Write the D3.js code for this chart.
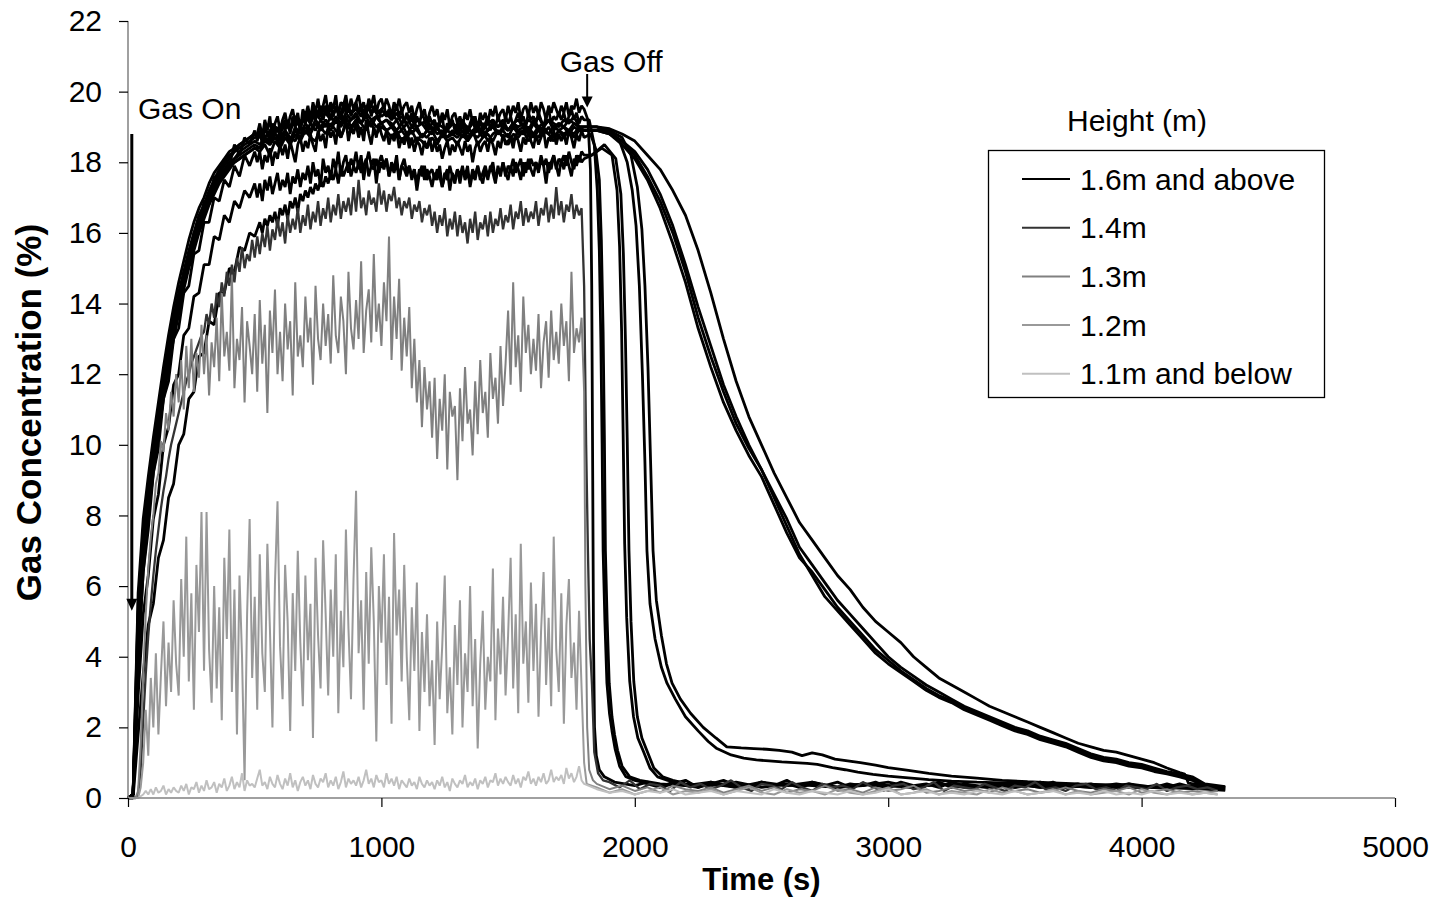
<!DOCTYPE html>
<html><head><meta charset="utf-8">
<script src="https://cdn.jsdelivr.net/npm/d3@7"></script>
<style>
html,body{margin:0;padding:0;background:#fff;}
svg{display:block;font-family:"Liberation Sans",Arial,sans-serif;}
</style></head>
<body><svg id="chart" width="1439" height="901"></svg>
<script>
// ---------------- DATA ----------------
const X_TICKS = [0, 1000, 2000, 3000, 4000, 5000];
const Y_TICKS = [0, 2, 4, 6, 8, 10, 12, 14, 16, 18, 20, 22];
const X_TITLE = "Time (s)";
const Y_TITLE = "Gas Concentration (%)";
const LEGEND_TITLE = "Height (m)";
const LEGEND_LABELS = ["1.6m and above", "1.4m", "1.3m", "1.2m", "1.1m and below"];
const LEGEND_COLORS = ["#000000", "#333333", "#808080", "#999999", "#c0c0c0"];
const GAS_ON = {t: 15, from: 18.8, to: 5.3, label: "Gas On"};
const GAS_OFF = {t: 1812, from: 20.5, to: 19.55, label: "Gas Off"};

// sampling steps (s)
const RISE_STEP = 20;     // black sensors rise, t = 0..500
const PLATEAU_STEP = 10;  // noisy black sensors plateau, t = 510..1800
const BLACK_STEP = 20;    // smoother black sensors, t = 0..1800
const GRAY_STEP = 10;     // gray sensors, t = 0..1800

// ---- 1.6m and above (black), noisy sensors: rise t=0..500 /20, plateau t=510..1800 /10 ----
const v1Rise = [0,0.1,5.5,7.6,8.9,9.9,10.9,11.9,12.8,13.6,14.3,14.9,15.5,16.0,16.5,16.8,17.2,17.5,17.8,18.0,18.2,18.3,18.5,18.6,18.7,18.8];
const v1Plat = [18.8,19.1,18.7,19.2,18.9,19.3,18.6,19.1,19.3,18.9, 19.2,19.4,19.0,19.3,19.5,19.1,19.4,18.9,19.5,19.3,
 19.6,19.2,19.7,19.4,19.8,19.3,19.6,19.9,19.4,19.7, 19.5,19.9,19.3,19.7,19.6,19.9,19.4,19.8,19.5,19.7,
 19.9,19.5,19.7,19.3,19.8,19.6,19.9,19.4,19.7,19.8, 19.5,19.8,19.6,19.3,19.7,19.5,19.8,19.4,19.6,19.7,
 19.4,19.6,19.2,19.5,19.7,19.3,19.5,19.1,19.4,19.6, 19.3,19.5,19.1,19.4,19.2,19.5,19.0,19.3,19.4,19.1,
 19.3,19.0,19.4,19.2,19.5,19.1,19.3,18.9,19.4,19.2, 19.4,19.1,19.5,19.3,19.6,19.2,19.4,19.5,19.2,19.6,
 19.3,19.6,19.4,19.7,19.2,19.5,19.6,19.3,19.7,19.4, 19.6,19.3,19.7,19.5,19.2,19.6,19.4,19.7,19.5,19.3,
 19.6,19.4,19.7,19.3,19.6,19.5,19.8,19.4,19.6,19.5];
const v1Drop = [[1815,19.2],[1825,17.8],[1830,14.5],[1834,9],[1837,4.5],[1841,2.0],[1848,1.2],[1860,0.8],[1880,0.6],[1920,0.45],[1960,0.4]];
const v1Tail = [0.35,0.45,0.3,0.4,0.5,0.3,0.45,0.35,0.4,0.3,0.45,0.35,0.5,0.3,0.4,0.35,0.45,0.3,0.4,0.35,
 0.3,0.45,0.35,0.4,0.3,0.45,0.35,0.3,0.4,0.35,0.3,0.4,0.35,0.45,0.3,0.35,0.4,0.3,0.35,0.4,0.3,0.35,0.3,0.4,0.3,0.35,0.3]; // 2000..4300 /50

const v2Rise = [0,0.1,4.8,7.4,8.4,9.9,10.5,11.9,12.4,13.6,13.9,14.9,15.1,16.0,16.1,16.9,16.8,17.6,17.5,18.1,17.9,18.5,18.2,18.7,18.5,18.9];
const v2Plat = [18.6,18.9,18.5,19.0,18.8,18.6,19.1,18.8,19.0,18.7, 19.1,18.9,19.2,18.8,19.3,19.0,19.2,18.9,19.3,19.1,
 19.4,19.1,19.5,19.2,19.4,19.6,19.2,19.5,19.3,19.6, 19.3,19.6,19.4,19.2,19.7,19.4,19.6,19.3,19.5,19.7,
 19.4,19.6,19.2,19.5,19.7,19.3,19.6,19.4,19.2,19.5, 19.6,19.3,19.5,19.2,19.4,19.6,19.3,19.5,19.1,19.4,
 19.2,19.4,19.0,19.3,19.1,19.4,19.2,18.9,19.3,19.1, 19.2,18.9,19.1,19.3,18.8,19.1,19.0,19.2,18.9,19.1,
 18.9,19.2,19.0,18.8,19.1,19.3,18.9,19.1,19.2,18.9, 19.1,19.3,18.9,19.2,19.0,19.3,19.1,18.9,19.3,19.1,
 19.3,19.0,19.2,19.4,19.1,19.3,19.0,19.4,19.2,19.3, 19.1,19.4,19.2,19.0,19.3,19.5,19.1,19.3,19.2,19.4,
 19.2,19.4,19.1,19.3,19.5,19.2,19.4,19.1,19.3,19.2];
const v2Drop = [[1820,19.2],[1840,18.5],[1852,17.2],[1860,15.5],[1866,13.0],[1871,10],[1875,7.0],[1882,5.0],[1890,3.25],[1900,2.4],[1910,1.9],[1922,1.4],[1940,0.9],[1965,0.6],[2000,0.5],[2030,0.45]];
const v2Tail = [0.4,0.3,0.45,0.35,0.3,0.4,0.5,0.35,0.3,0.45,0.35,0.4,0.3,0.45,0.35,0.3,0.4,0.35,0.45,0.3,
 0.4,0.3,0.35,0.45,0.3,0.4,0.35,0.3,0.4,0.3,0.35,0.45,0.3,0.35,0.4,0.3,0.35,0.3,0.4,0.35,0.3,0.4,0.3,0.35,0.3,0.3]; // 2050..4300 /50

const f2Rise = [0,0.1,3.8,6.4,7.6,9.2,9.9,11.3,11.8,13.0,13.3,14.3,14.5,15.4,15.5,16.3,16.3,17.0,16.9,17.5,17.3,17.9,17.6,18.2,17.9,18.3];
const f2Plat = [18.0,18.3,17.8,18.2,18.0,18.4,17.9,18.3,18.1,18.5, 18.2,18.5,18.1,18.6,18.3,18.0,18.5,18.7,18.3,18.6,
 18.4,18.8,18.5,18.3,18.9,18.6,18.8,18.4,19.0,18.7, 18.9,18.5,19.1,18.7,18.9,19.2,18.6,19.0,18.8,19.1,
 18.7,19.0,18.6,19.2,18.8,18.5,19.0,18.7,19.1,18.8, 18.6,18.9,18.5,18.8,18.6,18.9,18.4,18.7,18.5,18.8,
 18.4,18.7,18.3,18.6,18.5,18.2,18.6,18.4,18.7,18.3, 18.6,18.3,18.5,18.1,18.4,18.6,18.2,18.5,18.3,18.6,
 18.4,18.2,18.6,18.3,18.5,18.0,18.4,18.6,18.3,18.5, 18.6,18.3,18.7,18.5,18.2,18.6,18.4,18.8,18.5,18.6,
 18.7,18.4,18.8,18.6,18.3,18.7,18.5,18.9,18.6,18.4, 18.8,18.5,18.7,18.9,18.4,18.7,18.6,18.9,18.5,18.8,
 18.6,18.8,18.5,18.9,18.7,18.4,18.8,18.6,18.9,18.7];
const f2Drop = [[1825,18.8],[1845,18.4],[1860,17.5],[1868,15.8],[1875,13.2],[1880,10.2],[1884,7.0],[1891,5.0],[1899,3.25],[1910,2.3],[1920,1.8],[1932,1.35],[1950,0.9],[1980,0.6],[2020,0.5],[2060,0.45]];
const f2Tail = [0.4,0.35,0.45,0.3,0.4,0.35,0.45,0.3,0.4,0.35,0.3,0.4,0.35,0.3,0.4,0.3,0.35,0.3,0.4,0.3,0.35,0.3,0.3]; // 2100..4300 /100

const f3Rise = [0,0.1,2.9,5.2,6.3,7.9,8.6,10.0,10.5,11.7,12.0,13.1,13.3,14.2,14.3,15.1,15.1,15.9,15.8,16.5,16.3,16.9,16.7,17.2,17.0,17.4];
const f3Plat = [17.0,17.4,16.9,17.5,17.2,17.6,17.1,17.4,17.7,17.2, 17.5,17.3,17.7,17.1,17.6,17.4,17.8,17.3,17.7,17.5,
 17.9,17.4,18.0,17.6,17.8,17.3,18.1,17.7,17.9,17.5, 18.1,17.8,18.3,17.6,18.0,18.2,17.7,18.1,17.9,18.3,
 17.8,18.2,17.5,18.0,18.3,17.9,18.1,17.4,18.0,18.2, 17.9,18.1,17.6,18.0,17.8,18.2,17.5,17.9,18.1,17.7,
 17.9,17.5,17.8,17.2,17.7,17.9,17.5,17.8,17.6,17.3, 17.7,17.5,17.9,17.3,17.6,17.8,17.2,17.7,17.5,17.8,
 17.4,17.8,17.6,17.9,17.3,17.7,17.5,17.9,17.6,17.4, 17.8,17.5,17.9,17.7,17.4,17.9,17.6,18.0,17.7,17.5,
 17.9,17.6,18.0,17.8,17.5,18.0,17.7,18.1,17.8,17.6, 18.0,17.7,18.1,17.9,17.4,18.0,17.8,18.2,17.9,17.6,
 18.1,17.8,18.2,17.9,17.6,18.1,17.9,18.2,18.0,18.1];
const f3Drop = [[1830,18.2],[1870,18.4],[1910,18.2],[1930,17.2],[1940,15.6],[1948,13.2],[1954,10.3],[1960,7.2],[1968,5.1],[1980,3.3],[1995,2.3],[2012,1.7],[2035,1.3],[2060,0.85],[2090,0.6],[2130,0.5],[2170,0.45]];
const f3Tail = [0.35,0.4,0.3,0.45,0.35,0.4,0.3,0.35,0.45,0.3,0.4,0.35,0.3,0.35,0.4,0.3,0.35,0.3,0.3,0.35,0.3,0.28]; // 2200..4300 /100

const f4Rise = [0,0,1.8,3.5,4.9,5.5,6.8,7.3,8.5,8.9,10.0,10.3,11.3,11.5,12.5,12.6,13.5,13.4,14.3,14.3,15.0,14.9,15.6,15.5,16.0,15.9];
const f4Plat = [16.1,16.3,16.0,16.4,16.2,16.5,16.3,16.6,16.2,16.7, 16.5,16.8,16.4,16.9,16.7,17.0,16.6,17.1,16.9,17.2,
 17.0,17.3,17.1,17.4,17.2,17.5,17.3,17.6,17.4,17.7, 17.5,17.8,17.4,17.9,17.6,17.8,18.0,17.6,17.9,17.7,
 18.0,17.7,17.9,18.1,17.6,17.9,17.8,18.1,17.7,18.0, 17.8,18.1,17.6,17.9,17.7,18.0,17.5,17.9,17.8,17.6,
 17.9,17.6,17.8,17.4,17.8,17.6,17.9,17.5,17.7,17.8, 17.5,17.8,17.6,17.3,17.7,17.5,17.9,17.6,17.4,17.8,
 17.6,17.9,17.5,17.7,17.4,17.8,17.6,17.9,17.5,17.7, 17.9,17.6,17.8,18.0,17.5,17.8,17.7,18.0,17.6,17.9,
 17.8,18.1,17.7,17.9,18.1,17.6,18.0,17.8,18.1,17.9, 18.0,17.8,18.2,17.9,18.1,17.7,18.0,18.2,17.8,18.1,
 18.0,18.2,17.9,18.3,18.0,17.8,18.2,18.0,18.3,18.2];
const f4Drop = [[1830,18.2],[1880,18.5],[1925,18.1],[1945,17.1],[1955,15.4],[1963,13.0],[1970,10.2],[1977,7.0],[1985,5.0],[1996,3.3],[2010,2.3],[2028,1.7],[2050,1.3],[2075,0.85],[2110,0.6],[2150,0.5],[2180,0.45]];
const f4Tail = [0.4,0.35,0.45,0.3,0.4,0.35,0.3,0.4,0.35,0.3,0.4,0.3,0.35,0.4,0.3,0.35,0.3,0.35,0.3,0.3,0.28,0.3]; // 2200..4300 /100

// ---- 1.6m and above (black), smoother sensors: t=0..1800 every 20 s ----
const m1Fill = [0,0.1,4.3,6.7,8.2,9.4,10.5,11.5,12.4,13.2,13.9,14.6,15.2,15.7,16.1,16.5,16.9,17.2,17.5,17.7,17.9,18.1,18.2,18.3,18.4,18.5,
 18.4,18.7,18.5,18.8,18.6,18.9,18.7,18.6,19.0,18.8,19.1,18.9,19.2,
 19.0,19.3,19.1,19.4,19.0,19.2,19.4,19.1,19.3,19.0,19.3,19.1,19.2,
 19.0,19.2,18.9,19.1,18.8,19.0,18.7,18.9,19.0,18.8,18.9,18.7,18.9,
 18.8,19.0,18.7,18.9,19.0,18.8,18.9,19.1,18.8,19.0,18.9,19.1,18.9,
 19.0,18.8,19.1,18.9,19.0,19.2,18.9,19.1,19.0,18.9,19.1,19.0,19.0];
const m1Drop = [[1850,19.0],[1900,18.9],[1940,18.6],[1970,18.0],[1990,17.2],[2005,16.2],[2018,14.5],[2030,12.0],[2040,9.5],[2048,7.0],[2060,5.5],[2080,4.5],[2105,3.7],[2127,3.25],[2160,2.8],[2200,2.3],[2250,1.9],[2290,1.6],[2324,1.4],[2380,1.22],[2430,1.13],[2480,1.08],[2530,1.05],[2580,1.02],[2630,1.0],[2680,0.98],[2720,0.95],[2780,0.86],[2830,0.8],[2880,0.73],[2940,0.67],[3000,0.62],[3080,0.57],[3160,0.52],[3250,0.48],[3350,0.45],[3450,0.43],[3550,0.41],[3650,0.39],[3750,0.37],[3850,0.35],[3950,0.32],[4050,0.3],[4150,0.28],[4250,0.25],[4330,0.22]];

const m2Fill = [0,0.1,4.0,6.4,8.0,9.2,10.3,11.3,12.2,13.0,13.7,14.4,15.0,15.5,16.0,16.4,16.8,17.1,17.4,17.6,17.8,18.0,18.1,18.2,18.3,18.4,
 18.3,18.5,18.2,18.6,18.4,18.7,18.5,18.8,18.6,18.9,18.7,18.6,19.0,
 18.8,19.1,18.9,18.7,19.1,18.9,19.2,18.8,19.0,19.1,18.8,19.0,18.9,
 18.7,18.9,18.6,18.8,18.5,18.7,18.6,18.4,18.7,18.5,18.8,18.6,18.7,
 18.5,18.8,18.6,18.9,18.5,18.7,18.8,18.6,18.9,18.7,18.5,18.8,18.7,
 18.9,18.6,18.8,18.7,19.0,18.8,18.6,18.9,18.7,18.9,18.8,19.0,18.9];
const m2Drop = [[1850,18.9],[1900,18.9],[1950,18.7],[1985,18.2],[2010,17.3],[2028,16.1],[2040,14.5],[2052,12.2],[2062,9.6],[2072,7.0],[2085,5.6],[2105,4.6],[2125,3.8],[2147,3.25],[2180,2.8],[2220,2.4],[2270,2.0],[2320,1.7],[2363,1.45],[2420,1.42],[2470,1.4],[2520,1.38],[2570,1.35],[2620,1.3],[2660,1.2],[2700,1.28],[2740,1.22],[2790,1.1],[2840,1.05],[2890,1.0],[2950,0.93],[3000,0.86],[3080,0.78],[3160,0.7],[3250,0.62],[3350,0.56],[3450,0.5],[3550,0.46],[3650,0.43],[3750,0.4],[3850,0.38],[3950,0.35],[4050,0.32],[4150,0.3],[4250,0.27],[4330,0.24]];

const s1Fill = [0,0.1,5.2,7.4,8.7,9.8,10.8,11.8,12.7,13.5,14.2,14.8,15.4,15.9,16.3,16.7,17.1,17.4,17.7,17.9,18.1,18.3,18.4,18.5,18.6,18.7,
 18.8,18.7,18.9,19.0,18.8,19.1,18.9,19.2,19.0,19.3,19.1,19.4,19.2,
 19.4,19.2,19.5,19.3,19.6,19.4,19.5,19.3,19.6,19.4,19.5,19.3,19.4,
 19.2,19.4,19.1,19.3,19.0,19.2,19.1,18.9,19.1,19.0,18.8,19.0,19.1,
 18.9,19.1,19.0,18.8,19.0,19.1,18.9,19.1,19.0,19.2,18.9,19.1,19.0,
 19.1,18.9,19.2,19.0,19.1,19.2,19.0,19.1,19.0,19.2,19.1,19.0,19.0];
const s1Drop = [[1850,19.0],[1900,18.95],[1950,18.8],[2000,18.6],[2050,18.2],[2100,17.8],[2150,17.2],[2200,16.5],[2250,15.5],[2300,14.3],[2350,13.0],[2400,11.8],[2450,10.8],[2500,10.0],[2550,9.2],[2600,8.5],[2650,7.8],[2700,7.3],[2750,6.8],[2800,6.3],[2850,5.9],[2900,5.4],[2950,5.0],[3000,4.7],[3050,4.4],[3100,4.0],[3150,3.7],[3200,3.4],[3250,3.2],[3300,3.0],[3350,2.8],[3400,2.6],[3450,2.45],[3500,2.3],[3550,2.15],[3600,2.0],[3650,1.85],[3700,1.7],[3750,1.55],[3800,1.45],[3850,1.35],[3900,1.3],[3950,1.2],[4000,1.1],[4050,1.0],[4100,0.85],[4150,0.72],[4170,0.68],[4185,0.42],[4250,0.35],[4330,0.3]];

const s2Fill = [0,0.1,4.6,6.9,8.4,9.6,10.7,11.7,12.6,13.4,14.1,14.7,15.3,15.8,16.2,16.6,17.0,17.3,17.6,17.8,18.0,18.1,18.3,18.4,18.5,18.6,
 18.5,18.7,18.6,18.8,18.7,18.9,18.6,19.0,18.8,19.1,18.9,19.2,19.0,
 19.2,19.0,19.3,19.1,19.4,19.2,19.3,19.1,19.4,19.2,19.3,19.1,19.2,
 19.1,18.9,19.1,18.8,19.0,18.9,18.7,18.9,18.8,19.0,18.7,18.9,18.8,
 18.9,18.7,19.0,18.8,18.9,18.7,18.9,19.0,18.8,18.9,18.7,19.0,18.8,
 18.9,19.0,18.8,19.0,18.9,18.8,19.0,18.9,19.0,18.8,19.0,18.9,18.9];
const s2Drop = [[1850,18.9],[1900,18.8],[1950,18.5],[2000,18.1],[2050,17.5],[2100,16.7],[2150,15.7],[2200,14.6],[2250,13.3],[2300,12.2],[2350,11.2],[2400,10.4],[2450,9.7],[2500,9.1],[2550,8.3],[2600,7.5],[2650,6.8],[2700,6.4],[2750,5.9],[2800,5.4],[2850,5.0],[2900,4.6],[2950,4.2],[3000,3.9],[3050,3.6],[3100,3.35],[3150,3.1],[3200,2.9],[3250,2.75],[3300,2.55],[3350,2.4],[3400,2.25],[3450,2.1],[3500,1.95],[3550,1.85],[3600,1.7],[3650,1.6],[3700,1.5],[3750,1.35],[3800,1.2],[3850,1.1],[3900,1.05],[3950,0.95],[4000,0.9],[4050,0.8],[4100,0.72],[4150,0.65],[4200,0.55],[4250,0.35],[4330,0.3]];

const s3Fill = [0,0.1,5.8,7.9,9.1,10.2,11.2,12.2,13.1,13.9,14.6,15.2,15.8,16.3,16.7,17.0,17.4,17.7,17.9,18.1,18.3,18.4,18.5,18.6,18.7,18.8,
 18.7,18.9,18.8,19.0,18.9,19.2,19.0,19.3,19.1,19.4,19.2,19.5,19.3,
 19.6,19.3,19.5,19.4,19.7,19.4,19.6,19.3,19.5,19.6,19.4,19.5,19.3,
 19.4,19.2,19.3,19.1,19.2,19.0,19.1,19.2,18.9,19.1,19.0,18.9,19.1,
 19.0,19.2,18.9,19.1,19.0,18.9,19.1,19.2,19.0,19.1,18.9,19.1,19.2,
 19.0,19.2,19.1,19.3,19.0,19.2,19.1,19.0,19.2,19.1,19.3,19.0,19.0];
const s3Drop = [[1850,19.0],[1900,18.85],[1950,18.6],[2000,18.2],[2050,17.6],[2100,16.9],[2150,16.0],[2200,14.9],[2250,13.6],[2300,12.5],[2350,11.5],[2400,10.6],[2450,9.9],[2500,9.3],[2550,8.5],[2600,7.7],[2650,6.9],[2700,6.3],[2750,5.7],[2800,5.3],[2850,4.9],[2900,4.5],[2950,4.1],[3000,3.8],[3050,3.55],[3100,3.3],[3150,3.05],[3200,2.85],[3250,2.7],[3300,2.5],[3350,2.35],[3400,2.2],[3450,2.05],[3500,1.9],[3550,1.8],[3600,1.65],[3650,1.55],[3700,1.45],[3750,1.3],[3800,1.15],[3850,1.05],[3900,1.0],[3950,0.9],[4000,0.85],[4050,0.75],[4100,0.68],[4150,0.6],[4200,0.5],[4250,0.32],[4330,0.28]];

const s4Fill = [0,0.1,4.4,6.8,8.3,9.5,10.6,11.6,12.5,13.3,14.0,14.6,15.2,15.7,16.1,16.5,16.9,17.2,17.5,17.7,17.9,18.0,18.1,18.2,18.3,18.4,
 18.4,18.6,18.5,18.7,18.5,18.8,18.6,18.9,18.7,19.0,18.8,19.1,18.9,
 19.1,18.9,19.2,19.0,19.3,19.0,19.2,19.1,18.9,19.2,19.0,19.1,18.9,
 19.0,18.8,18.9,18.7,18.9,18.6,18.8,18.7,18.9,18.6,18.8,18.7,18.8,
 18.7,18.9,18.6,18.8,18.7,18.9,18.6,18.8,18.9,18.7,18.8,18.6,18.9,
 18.8,18.9,18.7,18.9,18.8,19.0,18.7,18.9,18.8,18.9,18.7,18.9,18.9];
const s4Drop = [[1850,18.9],[1900,18.8],[1950,18.6],[2000,18.3],[2050,17.8],[2100,17.1],[2150,16.2],[2200,15.1],[2250,13.9],[2300,12.8],[2350,11.7],[2400,10.8],[2450,10.0],[2500,9.3],[2550,8.6],[2600,7.9],[2650,7.1],[2700,6.6],[2750,6.1],[2800,5.6],[2850,5.2],[2900,4.8],[2950,4.4],[3000,4.0],[3050,3.7],[3100,3.45],[3150,3.2],[3200,3.0],[3250,2.8],[3300,2.6],[3350,2.45],[3400,2.3],[3450,2.15],[3500,2.0],[3550,1.9],[3600,1.75],[3650,1.65],[3700,1.55],[3750,1.4],[3800,1.25],[3850,1.15],[3900,1.1],[3950,1.0],[4000,0.95],[4050,0.85],[4100,0.75],[4150,0.68],[4200,0.6],[4250,0.4],[4330,0.32]];

// ---- 1.4m : t=0..1800 every 10 s ----
const h14Fill = [0,0,0,0,0.1, 0.8,2.2,3.5,4.6,5.5,
 6.3,7.0,7.6,8.2,8.7,9.1,9.6,10.0,10.3,10.6,
 10.9,11.2,11.5,11.8,12.0,12.3,12.5,12.7,12.9,13.1,
 13.2,13.7,13.4,14.0,13.6,14.3,13.9,14.6,14.2,14.9,
 14.5,15.1,14.6,15.3,14.9,15.6,15.0,15.4,15.2,15.8,
 15.3,15.9,15.4,16.0,15.6,16.2,15.5,16.1,15.8,16.4,
 15.9,16.3,15.7,16.5,16.0,16.4,16.1,16.7,16.0,16.5,
 16.2,16.8,16.1,16.6,16.3,16.9,16.2,16.7,16.4,17.0,
 16.3,16.8,16.5,17.1,16.4,16.9,16.6,17.0,16.5,17.3,
 16.6,17.5,16.7,17.0,16.5,17.2,16.8,17.0,16.6,17.4,
 16.8,17.2,16.6,17.1,16.9,17.3,16.7,17.0,16.5,16.9,
 16.7,17.0,16.4,16.8,16.6,16.9,16.3,16.7,16.5,16.8,
 16.2,16.6,16.0,16.5,16.2,16.7,15.9,16.4,16.1,16.6,
 15.9,16.5,16.0,16.3,15.7,16.4,16.0,16.6,15.8,16.3,
 16.1,16.5,15.9,16.6,16.0,16.4,16.2,16.7,16.1,16.5,
 16.3,16.8,16.1,16.6,16.4,16.9,16.2,16.7,16.3,16.6,
 16.4,16.9,16.2,16.7,16.5,17.0,16.3,16.8,16.4,17.3,
 16.5,16.9,16.3,16.8,16.6,17.1,16.4,16.8,16.5,16.7,
 14.5];
const h14Drop = [[1808,10],[1815,7],[1822,4.5],[1831,3.2],[1840,1.3],[1855,0.7],[1875,0.5]];
const h14Tail = [0.45,0.3,0.5,0.25,0.4,0.35,0.2,0.45,0.3,0.4,0.25,0.35,0.5,0.3,0.2,0.4,0.35,0.25,0.45,0.3,
 0.2,0.4,0.3,0.35,0.25,0.45,0.3,0.2,0.35,0.4,0.25,0.3,0.45,0.2,0.35,0.3,0.25,0.4,0.3,0.2,
 0.35,0.3,0.45,0.25,0.3,0.2,0.35,0.4,0.25,0.3,0.2,0.35,0.3,0.25,0.4,0.2,0.3,0.35,0.25,0.3,0.2]; // 1900..4300 /40

// ---- 1.3m ----
const h13Fill = [0,0,0,0,0.2, 1.5,3.5,5.2,6.5,7.4,
 8.0,8.9,9.2,10.1,9.8,10.9,10.4,11.5,10.8,12.0,
 11.2,12.4,11.0,12.8,11.6,13.0,11.5,12.6,11.9,13.4,
 12.0,13.1,11.4,12.9,12.2,13.6,11.8,14.3,12.5,13.2,
 12.1,14.8,11.6,13.0,12.4,13.9,11.2,13.5,12.8,12.0,
 13.7,11.5,14.1,12.3,13.4,10.9,13.8,12.6,14.4,12.0,
 13.2,11.8,14.0,12.7,13.5,11.4,14.6,12.5,13.1,12.2,
 14.2,12.9,13.6,11.7,14.5,13.0,12.4,14.0,12.8,13.7,
 12.3,14.8,13.1,12.6,14.2,13.5,12.0,14.9,13.3,12.7,
 14.1,13.0,15.2,12.6,13.8,14.4,12.9,15.4,13.2,14.0,
 12.8,14.6,13.5,15.9,12.4,14.2,13.0,14.7,12.1,13.6,
 12.5,13.9,11.6,13.0,11.2,12.4,10.5,12.2,11.0,11.8,
 10.2,11.9,9.6,11.3,10.4,12.0,9.3,11.5,10.8,11.1,
 9.0,11.6,10.1,12.2,10.6,11.0,9.7,11.8,10.3,12.4,
 10.9,11.5,10.2,12.6,11.3,11.9,10.6,12.8,11.1,12.3,
 13.8,11.7,14.6,12.2,13.1,11.5,14.2,12.6,13.4,12.0,
 13.0,12.1,13.7,11.6,12.9,13.5,11.9,13.8,12.4,13.2,
 12.3,14.0,12.8,13.5,11.8,14.9,12.6,13.3,12.9,13.6,
 11.5];
const h13Drop = [[1805,6],[1812,2],[1820,0.8],[1835,0.5]];
const h13Tail = [0.4,0.25,0.35,0.2,0.3,0.15,0.35,0.25,0.2,0.3,0.15,0.25,0.35,0.2,0.3,0.15,0.25,0.2,0.35,0.2,
 0.25,0.15,0.3,0.2,0.25,0.35,0.15,0.2,0.3,0.2,0.25,0.15,0.3,0.2,0.25,0.15,0.2,0.3,0.2,0.15,
 0.25,0.2,0.3,0.15,0.2,0.25,0.15,0.2,0.15,0.2]; // 1850..4300 /50

// ---- 1.2m ----
const h12Fill = [0,0,0,0,0, 0.3,1.0,2.5,1.2,3.4,
 2.0,4.1,1.8,3.5,5.0,2.6,4.4,3.0,5.6,3.8,
 2.9,6.2,4.0,7.4,3.3,5.8,2.5,6.6,4.7,8.1,
 3.6,8.1,4.2,2.7,6.0,3.1,5.4,2.2,6.8,4.5,
 7.6,3.0,5.9,1.8,6.3,4.0,0.5,5.2,7.9,3.4,
 5.7,2.5,6.9,4.1,3.0,7.2,4.8,2.0,6.1,8.4,
 4.3,2.8,6.6,5.0,1.9,5.8,3.6,7.0,4.4,2.6,
 6.3,3.9,5.5,1.7,6.8,4.6,3.1,7.3,5.2,2.9,
 5.9,4.0,6.9,2.4,5.3,3.7,7.6,4.8,2.8,6.2,
 8.7,4.1,5.6,2.5,6.4,3.8,7.1,5.0,1.6,6.0,
 4.4,6.9,3.2,5.7,2.1,7.5,4.6,5.9,3.3,6.6,
 4.0,2.2,5.4,3.6,6.1,1.9,4.7,3.0,5.2,2.6,
 3.9,1.5,5.0,2.8,4.3,6.3,2.4,3.7,1.8,4.9,
 3.2,5.6,2.0,4.1,3.0,6.0,2.6,4.5,1.4,3.8,
 5.3,2.5,4.0,3.3,6.5,2.2,4.8,3.5,5.7,2.9,
 4.6,6.8,3.1,5.2,2.4,7.2,3.8,5.0,2.7,6.1,
 3.6,5.5,2.3,4.7,6.4,3.2,5.1,2.6,7.4,4.2,
 3.0,5.8,2.1,4.9,6.2,3.4,4.4,2.5,5.3,3.1,
 1.0];
const h12Drop = [[1810,0.4]];
const h12Tail = [0.3,0.15,0.25,0.1,0.2,0.3,0.1,0.2,0.15,0.25,0.1,0.2,0.3,0.15,0.1,0.25,0.15,0.2,0.1,0.25,
 0.15,0.1,0.2,0.3,0.1,0.15,0.25,0.1,0.2,0.15,0.1,0.25,0.15,0.2,0.1,0.15,0.25,0.1,0.2,0.1,
 0.15,0.2,0.1,0.25,0.15,0.1,0.2,0.1,0.15,0.1]; // 1850..4300 /50

// ---- 1.1m and below ----
const h11Fill = [0,0,0,0,0,0.05,0.1,0.2,0.1,0.25,
 0.1,0.3,0.15,0.2,0.35,0.1,0.25,0.15,0.3,0.2,
 0.15,0.35,0.2,0.4,0.1,0.3,0.25,0.45,0.15,0.35,
 0.2,0.5,0.25,0.3,0.45,0.15,0.4,0.3,0.55,0.2,
 0.35,0.6,0.25,0.45,0.3,0.7,0.2,0.5,0.35,0.4,
 0.3,0.55,0.8,0.35,0.45,0.25,0.6,0.4,0.3,0.65,
 0.4,0.25,0.55,0.35,0.7,0.3,0.5,0.2,0.45,0.6,
 0.35,0.5,0.25,0.65,0.4,0.3,0.55,0.45,0.7,0.3,
 0.5,0.35,0.6,0.25,0.45,0.75,0.3,0.55,0.4,0.5,
 0.35,0.6,0.3,0.5,0.8,0.4,0.55,0.3,0.65,0.45,
 0.5,0.3,0.7,0.4,0.55,0.35,0.6,0.25,0.5,0.4,
 0.3,0.55,0.35,0.45,0.25,0.6,0.4,0.3,0.5,0.35,
 0.45,0.25,0.5,0.35,0.6,0.3,0.45,0.2,0.55,0.4,
 0.3,0.5,0.4,0.65,0.3,0.45,0.35,0.55,0.25,0.5,
 0.4,0.6,0.3,0.5,0.45,0.7,0.35,0.55,0.4,0.6,
 0.45,0.35,0.65,0.4,0.55,0.3,0.6,0.5,0.75,0.4,
 0.55,0.35,0.6,0.45,0.7,0.4,0.5,0.8,0.45,0.6,
 0.5,0.65,0.4,0.85,0.55,0.7,0.45,0.6,0.9,0.5,
 0.4];
const h11Tail = [0.25,0.15,0.2,0.1,0.2,0.15,0.25,0.1,0.15,0.2,0.1,0.2,0.15,0.1,0.25,0.15,0.1,0.2,0.15,0.1,
 0.2,0.1,0.15,0.25,0.1,0.15,0.2,0.1,0.15,0.1,0.2,0.15,0.1,0.2,0.1,0.15,0.2,0.1,0.15,0.1,
 0.2,0.1,0.15,0.1,0.2,0.1,0.15,0.1,0.15,0.1]; // 1850..4300 /50

// ---------------- BUILD SERIES ----------------
const grid = (t0, dt, vals) => vals.map((v, i) => [t0 + i * dt, v]);
const noisy = (rise, plat) => [...grid(0, RISE_STEP, rise), ...grid(510, PLATEAU_STEP, plat)];
const blackSeries = [
  [...grid(0, BLACK_STEP, s1Fill), ...s1Drop],
  [...grid(0, BLACK_STEP, s2Fill), ...s2Drop],
  [...grid(0, BLACK_STEP, s3Fill), ...s3Drop],
  [...grid(0, BLACK_STEP, s4Fill), ...s4Drop],
  [...grid(0, BLACK_STEP, m1Fill), ...m1Drop],
  [...grid(0, BLACK_STEP, m2Fill), ...m2Drop],
  [...noisy(f4Rise, f4Plat), ...f4Drop, ...grid(2200, 100, f4Tail)],
  [...noisy(f3Rise, f3Plat), ...f3Drop, ...grid(2200, 100, f3Tail)],
  [...noisy(f2Rise, f2Plat), ...f2Drop, ...grid(2100, 100, f2Tail)],
  [...noisy(v2Rise, v2Plat), ...v2Drop, ...grid(2050, 50, v2Tail)],
  [...noisy(v1Rise, v1Plat), ...v1Drop, ...grid(2000, 50, v1Tail)]
];
const graySeries = [
  {key: 1, data: [...grid(0, GRAY_STEP, h14Fill), ...h14Drop, ...grid(1900, 40, h14Tail)]},
  {key: 2, data: [...grid(0, GRAY_STEP, h13Fill), ...h13Drop, ...grid(1850, 50, h13Tail)]},
  {key: 3, data: [...grid(0, GRAY_STEP, h12Fill), ...h12Drop, ...grid(1850, 50, h12Tail)]},
  {key: 4, data: [...grid(0, GRAY_STEP, h11Fill), ...grid(1850, 50, h11Tail)]}
];

// ---------------- DRAW ----------------
const svg = d3.select("#chart");
const x = d3.scaleLinear().domain([0, 5000]).range([128, 1395]);
const y = d3.scaleLinear().domain([0, 22]).range([798, 21]);
const line = d3.line().x(d => x(d[0])).y(d => y(d[1]));

const plot = svg.append("g");
blackSeries.forEach(s => {
  plot.append("path").attr("d", line(s)).attr("fill", "none")
    .attr("stroke", LEGEND_COLORS[0]).attr("stroke-width", 2.8).attr("stroke-linejoin", "bevel");
});
graySeries.forEach(s => {
  plot.append("path").attr("d", line(s.data)).attr("fill", "none")
    .attr("stroke", LEGEND_COLORS[s.key]).attr("stroke-width", s.key === 1 ? 2.3 : 2)
    .attr("stroke-linejoin", "bevel");
});

// axes
const fontSize = 30;
const yAxis = svg.append("g").attr("transform", "translate(128,0)")
  .call(d3.axisLeft(y).tickValues(Y_TICKS).tickSize(9).tickPadding(17).tickFormat(d3.format("d")));
const xAxis = svg.append("g").attr("transform", "translate(0,798)")
  .call(d3.axisBottom(x).tickValues(X_TICKS).tickSize(9).tickPadding(29).tickFormat(d3.format("d")));
[yAxis, xAxis].forEach(a => {
  a.select(".domain").attr("stroke", "#808080").attr("stroke-width", 1.5);
  a.selectAll(".tick line").attr("stroke", "#000").attr("stroke-width", 1.2);
  a.selectAll(".tick text").attr("font-size", fontSize).attr("fill", "#000")
    .attr("font-family", "Liberation Sans, Arial, sans-serif");
});
yAxis.select(".domain").attr("d", `M0,${y(22)}V${y(0)}`);
xAxis.select(".domain").attr("d", `M${x(0)},0H${x(5000)}`);

// axis titles
svg.append("text").attr("x", x(2500)).attr("y", 890).attr("text-anchor", "middle")
  .attr("font-size", 31).attr("font-weight", "bold").text(X_TITLE);
svg.append("text").attr("transform", `translate(41,${(y(0)+y(22))/2 + 3}) rotate(-90)`)
  .attr("text-anchor", "middle").attr("font-size", 35).attr("font-weight", "bold").text(Y_TITLE);

// annotations
function arrow(t, v1, v2, w, head) {
  const xx = x(t), ya = y(v1), yb = y(v2);
  svg.append("line").attr("x1", xx).attr("x2", xx).attr("y1", ya).attr("y2", yb - head + 1)
    .attr("stroke", "#000").attr("stroke-width", w);
  svg.append("path").attr("d", `M${xx - 5.5},${yb - head}L${xx + 5.5},${yb - head}L${xx},${yb}Z`).attr("fill", "#000");
}
arrow(GAS_ON.t, GAS_ON.from, GAS_ON.to, 3, 12);
svg.append("text").attr("x", 138).attr("y", 119).attr("font-size", 30).text(GAS_ON.label);
arrow(GAS_OFF.t, GAS_OFF.from, GAS_OFF.to, 2, 11);
svg.append("text").attr("x", x(GAS_OFF.t) + 24).attr("y", 72).attr("text-anchor", "middle")
  .attr("font-size", 30).text(GAS_OFF.label);

// legend
const lg = svg.append("g");
lg.append("text").attr("x", 1067).attr("y", 131).attr("font-size", 30).text(LEGEND_TITLE);
lg.append("rect").attr("x", 988.5).attr("y", 150.5).attr("width", 336).attr("height", 247)
  .attr("fill", "#fff").attr("stroke", "#000").attr("stroke-width", 1.3);
LEGEND_LABELS.forEach((lab, i) => {
  const yy = 179 + i * 48.7;
  lg.append("line").attr("x1", 1022).attr("x2", 1070).attr("y1", yy).attr("y2", yy)
    .attr("stroke", LEGEND_COLORS[i]).attr("stroke-width", 2);
  lg.append("text").attr("x", 1080).attr("y", yy + 10.5).attr("font-size", 30).text(lab);
});
</script></body></html>
